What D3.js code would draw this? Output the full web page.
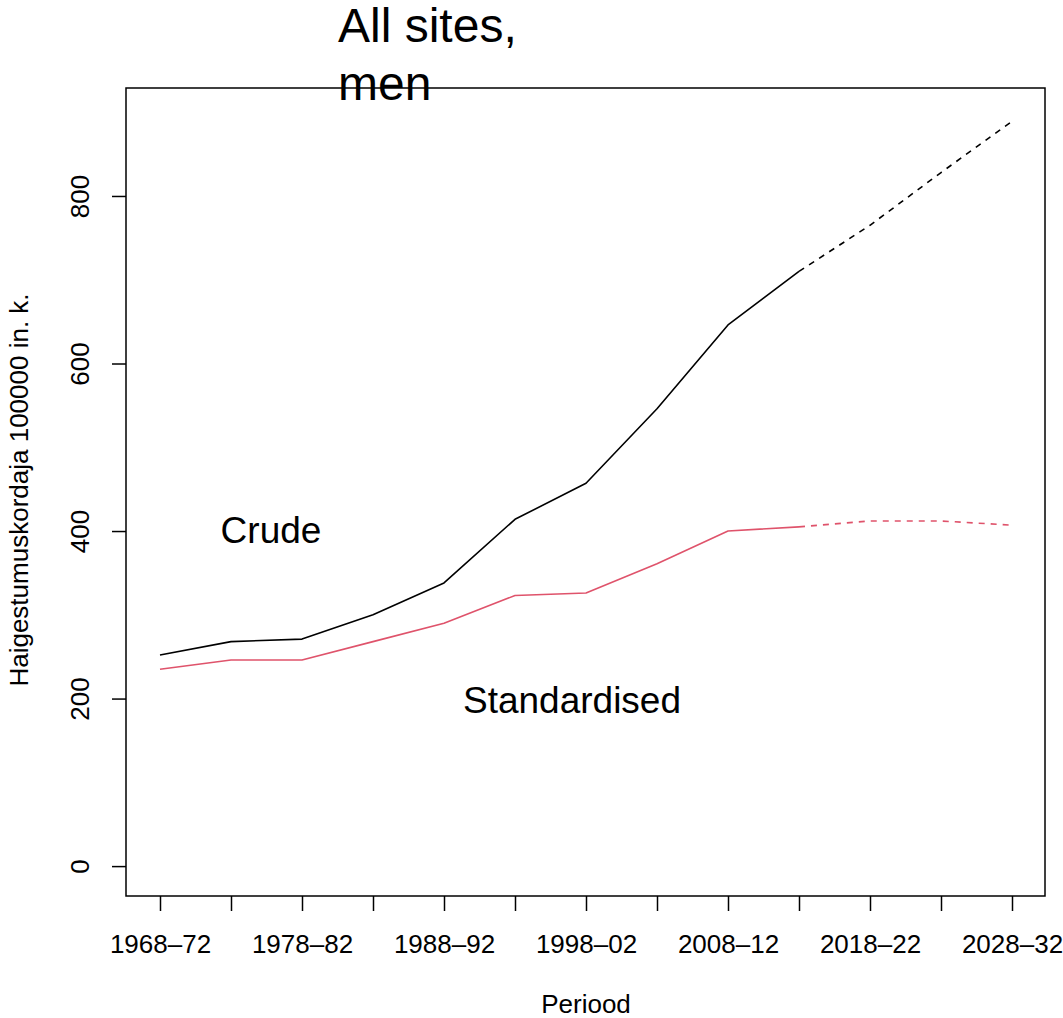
<!DOCTYPE html>
<html>
<head>
<meta charset="utf-8">
<script src="https://cdn.jsdelivr.net/npm/d3@7"></script>
<style>
  html, body { margin: 0; padding: 0; background: #fff; }
  svg text { font-family: "Liberation Sans", Arial, Helvetica, sans-serif; fill: #000; }
</style>
</head>
<body>
<svg id="chart" width="1063" height="1018"></svg>
<script>
// Five-year periods (observed through 2013-17, projected afterwards)
const periods = ["1968–72", "1973–77", "1978–82", "1983–87", "1988–92", "1993–97",
                 "1998–02", "2003–07", "2008–12", "2013–17", "2018–22", "2023–27", "2028–32"];
// Incidence per 100 000, observed periods
const crudeObserved = [252, 268, 271, 300, 338, 414, 457, 546, 646, 710];
const standardisedObserved = [235, 246, 246, 268, 290, 323, 326, 361, 400, 405];
// Projections, starting from the last observed period (2013-17)
const crudeProjected = [710, 765, 828, 889];
const standardisedProjected = [405, 412, 412, 407];
const projectionStart = 9; // index of 2013-17
const yTicks = [0, 200, 400, 600, 800];

const svg = d3.select("#chart");
const box = { left: 126, right: 1045, top: 88, bottom: 896 };

// Period index -> horizontal position, value -> vertical position
const x = d3.scaleLinear().domain([0, 12]).range([160, 1012]);
const y = d3.scaleLinear().domain([-35.7, 928.9]).range([box.bottom, box.top]);

const line = d3.line().x(d => x(d[0])).y(d => y(d[1]));
const withIndex = (vals, start) => vals.map((v, i) => [start + i, v]);

const series = [
  { obs: crudeObserved, proj: crudeProjected, color: "#000000" },
  { obs: standardisedObserved, proj: standardisedProjected, color: "#DF536B" }
];

const plot = svg.append("g");
series.forEach(s => {
  plot.append("path")
    .attr("d", line(withIndex(s.obs, 0)))
    .attr("fill", "none").attr("stroke", s.color)
    .attr("stroke-width", 1.6).attr("stroke-linejoin", "round");
  plot.append("path")
    .attr("d", line(withIndex(s.proj, projectionStart)))
    .attr("fill", "none").attr("stroke", s.color)
    .attr("stroke-width", 1.6).attr("stroke-dasharray", "6,6");
});

// Plot frame
svg.append("rect")
  .attr("x", box.left).attr("y", box.top)
  .attr("width", box.right - box.left).attr("height", box.bottom - box.top)
  .attr("fill", "none").attr("stroke", "#000").attr("stroke-width", 1.5);

// X axis: tick at every period, label at every other
const xAxis = d3.axisBottom(x)
  .tickValues(d3.range(periods.length))
  .tickSize(15).tickPadding(0)
  .tickFormat(i => i % 2 === 0 ? periods[i] : "");
const gx = svg.append("g").attr("transform", `translate(0,${box.bottom})`).call(xAxis);
gx.select(".domain").remove();
gx.selectAll(".tick line").attr("stroke", "#000").attr("stroke-width", 1.5);
gx.selectAll(".tick text")
  .attr("y", 57).attr("dy", null)
  .style("font-size", "26px").attr("font-family", null);

// Y axis with rotated labels
const yAxis = d3.axisLeft(y).tickValues(yTicks).tickSize(14).tickFormat(d3.format("d"));
const gy = svg.append("g").attr("transform", `translate(${box.left},0)`).call(yAxis);
gy.select(".domain").remove();
gy.selectAll(".tick line").attr("stroke", "#000").attr("stroke-width", 1.5);
gy.selectAll(".tick text")
  .attr("x", null).attr("dy", null)
  .attr("text-anchor", "middle")
  .attr("transform", "translate(-37,0) rotate(-90)")
  .style("font-size", "26px").attr("font-family", null);

// Axis titles
svg.append("text")
  .attr("transform", "translate(28,490) rotate(-90)")
  .attr("text-anchor", "middle")
  .style("font-size", "26px")
  .text("Haigestumuskordaja 100000 in. k.");
svg.append("text")
  .attr("x", 586).attr("y", 1013)
  .attr("text-anchor", "middle")
  .style("font-size", "26px")
  .text("Periood");

// Title, two lines
const title = svg.append("text").attr("x", 338).attr("y", 42).style("font-size", "48px");
title.append("tspan").attr("x", 338).text("All sites,");
title.append("tspan").attr("x", 338).attr("dy", 58).text("men");

// Series labels
svg.append("text")
  .attr("x", 271).attr("y", 543).attr("text-anchor", "middle")
  .style("font-size", "37px").text("Crude");
svg.append("text")
  .attr("x", 572).attr("y", 713).attr("text-anchor", "middle")
  .style("font-size", "37px").text("Standardised");
</script>
</body>
</html>
